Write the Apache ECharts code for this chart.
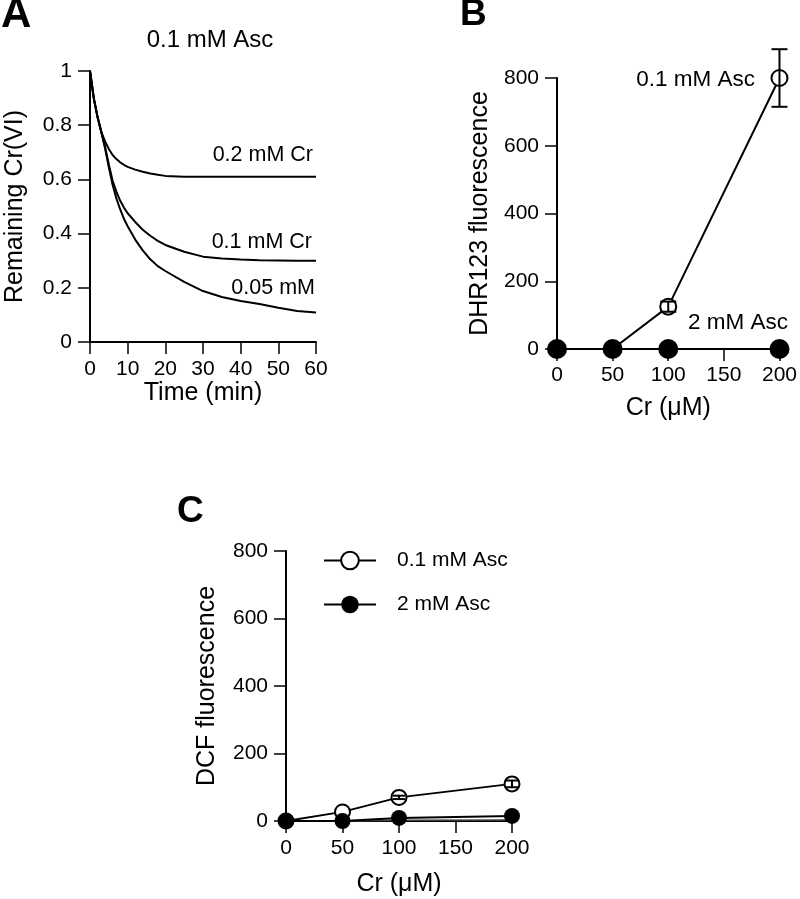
<!DOCTYPE html>
<html>
<head>
<meta charset="utf-8">
<script src="https://cdn.jsdelivr.net/npm/echarts@6/dist/echarts.min.js"></script>
<style>html,body{margin:0;padding:0;background:#fff}#c{width:800px;height:899px}</style>
</head>
<body>
<div id="c"></div>
<script>
// ---- Panel A data (Remaining Cr(VI) vs time, 0.1 mM Asc) ----
const timeMin = [0,1,2,3,4,5,6,7,8,9,10,12,14,16,18,20,25,30,35,40,45,50,55,60];
const cr02 = [1,0.9,0.83,0.775,0.74,0.712,0.69,0.675,0.663,0.654,0.646,0.636,0.628,0.622,0.617,0.613,0.61,0.61,0.61,0.61,0.61,0.61,0.61,0.61];
const cr01 = [1,0.9,0.83,0.775,0.72,0.655,0.595,0.555,0.522,0.496,0.475,0.443,0.414,0.392,0.373,0.358,0.333,0.315,0.308,0.304,0.302,0.301,0.300,0.300];
const cr005 = [1,0.9,0.83,0.775,0.715,0.645,0.58,0.53,0.49,0.455,0.427,0.378,0.338,0.305,0.28,0.262,0.222,0.188,0.166,0.151,0.14,0.126,0.114,0.109];
const yTicksA = [0,0.2,0.4,0.6,0.8,1];

// ---- Panel B data (DHR123 fluorescence) ----
const crUM = [0,50,100,200];
const dhrAsc01 = [0,0,125,800];
const dhrAsc01Err = [0,0,15,85];
const dhrAsc2 = [0,0,0,0];

// ---- Panel C data (DCF fluorescence) ----
const dcfAsc01 = [0,27,70,110];
const dcfAsc01Err = [0,0,5,10];
const dcfAsc2 = [0,0,9,15];
const dcfBlank = [0,0,2,3];

const FONT = 'Liberation Sans, Arial, Helvetica, sans-serif';
const pair = (xs, ys) => xs.map((x,i)=>[x, ys[i]]);
const errData = (xs, ys, es) => xs.map((x,i)=>[x, ys[i]-es[i], ys[i]+es[i]]).filter((d,i)=>es[i]>0);

function axisCommon(extra){
  return Object.assign({
    axisLine:{show:true,onZero:false,lineStyle:{color:'#000',width:2}},
    axisTick:{show:true,inside:false,length:12,lineStyle:{color:'#000',width:1.5}},
    splitLine:{show:false},
    axisLabel:{color:'#000',fontFamily:FONT,fontSize:21},
    nameTextStyle:{color:'#000',fontFamily:FONT,fontSize:25},
    nameLocation:'middle'
  }, extra);
}

function errRender(capHalf){
  return function(params, api){
    const x = api.value(0);
    const lo = api.coord([x, api.value(1)]);
    const hi = api.coord([x, api.value(2)]);
    const st = {stroke:'#000', lineWidth:2};
    return {type:'group', children:[
      {type:'line', shape:{x1:lo[0],y1:lo[1],x2:hi[0],y2:hi[1]}, style:st},
      {type:'line', shape:{x1:lo[0]-capHalf,y1:lo[1],x2:lo[0]+capHalf,y2:lo[1]}, style:st},
      {type:'line', shape:{x1:hi[0]-capHalf,y1:hi[1],x2:hi[0]+capHalf,y2:hi[1]}, style:st}
    ]};
  };
}

const chart = echarts.init(document.getElementById('c'), null, {renderer:'canvas'});

const txt = (text, x, y, size, align, bold) => ({
  type:'text', x:x, y:y,
  style:{text:text, x:0, y:0, fill:'#000', font:(bold?'bold ':'')+size+'px '+FONT, textAlign:align||'left', textVerticalAlign:'middle'}
});

const option = {
  animation:false,
  backgroundColor:'#fff',
  grid:[
    {left:90, top:71, width:226, height:271},
    {left:557, top:78, width:226, height:271},
    {left:286, top:551, width:226, height:270}
  ],
  xAxis:[
    axisCommon({gridIndex:0,type:'value',min:0,max:60,interval:10,name:'Time (min)',nameGap:36,axisLabel:{color:'#000',fontFamily:FONT,fontSize:21,margin:17}}),
    axisCommon({gridIndex:1,type:'value',min:0,max:200,interval:50,name:'Cr (\u03bcM)',nameGap:47,axisLabel:{color:'#000',fontFamily:FONT,fontSize:21,margin:16}}),
    axisCommon({gridIndex:2,type:'value',min:0,max:200,interval:50,name:'Cr (\u03bcM)',nameGap:51,axisLabel:{color:'#000',fontFamily:FONT,fontSize:21,margin:17}})
  ],
  yAxis:[
    axisCommon({gridIndex:0,type:'value',min:0,max:1,interval:0.2,name:'Remaining Cr(VI)',nameGap:62,axisLabel:{color:'#000',fontFamily:FONT,fontSize:21,margin:18}}),
    axisCommon({gridIndex:1,type:'value',min:0,max:800,interval:200,name:'DHR123 fluorescence',nameGap:64,axisLabel:{color:'#000',fontFamily:FONT,fontSize:21,margin:18}}),
    axisCommon({gridIndex:2,type:'value',min:0,max:800,interval:200,name:'DCF fluorescence',nameGap:66,axisLabel:{color:'#000',fontFamily:FONT,fontSize:21,margin:18}})
  ],
  legend:{
    left:318, top:545, orient:'vertical', itemWidth:52, itemHeight:22, itemGap:23,
    data:[{name:'0.1 mM Asc'},{name:'2 mM Asc'}],
    textStyle:{color:'#000',fontFamily:FONT,fontSize:21,padding:[0,0,0,16]},
    selectedMode:false
  },
  series:[
    {type:'line',xAxisIndex:0,yAxisIndex:0,data:pair(timeMin,cr02),showSymbol:false,symbol:'none',lineStyle:{color:'#000',width:2},clip:false},
    {type:'line',xAxisIndex:0,yAxisIndex:0,data:pair(timeMin,cr01),showSymbol:false,symbol:'none',lineStyle:{color:'#000',width:2},clip:false},
    {type:'line',xAxisIndex:0,yAxisIndex:0,data:pair(timeMin,cr005),showSymbol:false,symbol:'none',lineStyle:{color:'#000',width:2},clip:false},

    {name:'B 0.1',type:'line',xAxisIndex:1,yAxisIndex:1,data:pair(crUM,dhrAsc01),symbol:'circle',symbolSize:16,
      itemStyle:{color:'#fff',borderColor:'#000',borderWidth:2},lineStyle:{color:'#000',width:2},clip:false,z:3},
    {name:'B 2',type:'line',xAxisIndex:1,yAxisIndex:1,data:pair(crUM,dhrAsc2),symbol:'circle',symbolSize:20,
      itemStyle:{color:'#000',borderColor:'#000',borderWidth:0},lineStyle:{color:'#000',width:2},clip:false,z:4},
    {type:'custom',xAxisIndex:1,yAxisIndex:1,data:errData(crUM,dhrAsc01,dhrAsc01Err),renderItem:errRender(8),clip:false,z:5},

    {name:'blank',type:'line',xAxisIndex:2,yAxisIndex:2,data:pair(crUM,dcfBlank),symbol:'none',lineStyle:{color:'#444',width:1.5},clip:false,z:2},
    {name:'0.1 mM Asc',type:'line',xAxisIndex:2,yAxisIndex:2,data:pair(crUM,dcfAsc01),symbol:'circle',symbolSize:15,
      itemStyle:{color:'#fff',borderColor:'#000',borderWidth:2},lineStyle:{color:'#000',width:2},clip:false,z:3},
    {name:'2 mM Asc',type:'line',xAxisIndex:2,yAxisIndex:2,data:pair(crUM,dcfAsc2),symbol:'circle',symbolSize:16,
      itemStyle:{color:'#000',borderColor:'#000',borderWidth:0},lineStyle:{color:'#000',width:2},clip:false,z:4},
    {type:'custom',xAxisIndex:2,yAxisIndex:2,data:errData(crUM,dcfAsc01,dcfAsc01Err),renderItem:errRender(6),clip:false,z:5}
  ],
  graphic:[
    txt('A',1,15,42,'left',true),
    txt('B',460,15,37,'left',true),
    txt('C',177,512,37,'left',true),
    txt('0.1 mM Asc',210,40,24,'center'),
    txt('0.2 mM Cr',313,155,21.5,'right'),
    txt('0.1 mM Cr',312,242,21.5,'right'),
    txt('0.05 mM',315,288,21.5,'right'),
    txt('0.1 mM Asc',755,80,22.5,'right'),
    txt('2 mM Asc',688,323,22.5,'left')
  ]
};
chart.setOption(option);
</script>
</body>
</html>
